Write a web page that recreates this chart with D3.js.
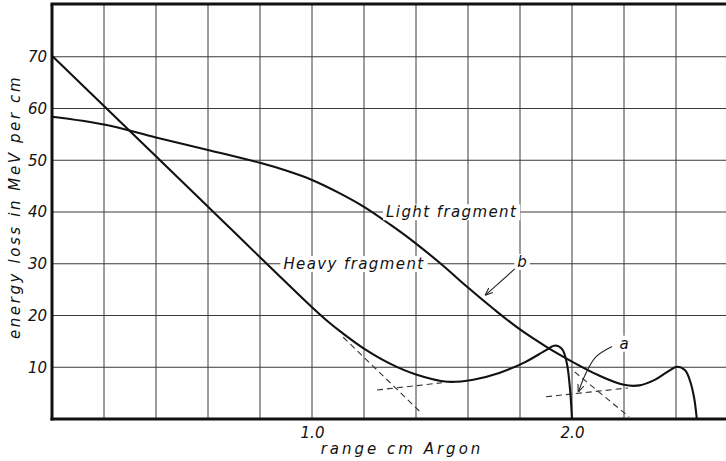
<!DOCTYPE html>
<html>
<head>
<meta charset="utf-8">
<script src="https://cdn.jsdelivr.net/npm/d3@7"></script>
<style>
  html, body { margin: 0; padding: 0; background: #fff; }
  svg { display: block; }
  text { font-family: "DejaVu Sans", sans-serif; font-style: italic; fill: #111; }
</style>
</head>
<body>
<svg id="chart" width="726" height="461"></svg>
<script>
// ---- data ----
const xTickValues = [1.0, 2.0];
const xTickLabels = ["1.0", "2.0"];
const yTickValues = [10, 20, 30, 40, 50, 60, 70];
const yTickLabels = ["10", "20", "30", "40", "50", "60", "70"];
const xGridValues = [0.2, 0.4, 0.6, 0.8, 1.0, 1.2, 1.4, 1.6, 1.8, 2.0, 2.2, 2.4];
const yGridValues = [10, 20, 30, 40, 50, 60, 70];

// Heavy fragment: range cm -> energy loss MeV/cm
const heavyX = [0, 0.5, 1.0, 1.06, 1.12, 1.2, 1.3, 1.4, 1.52, 1.62, 1.72, 1.82, 1.9, 1.935, 1.962, 1.98, 1.992, 2.0];
const heavyY = [70.2, 45.9, 21.6, 18.9, 16.5, 13.6, 10.7, 8.6, 7.2, 7.6, 8.9, 11.0, 13.3, 14.2, 13.5, 10.8, 6.0, 0];

// Light fragment
const lightX = [0, 0.2, 0.4, 0.6, 0.8, 0.9, 1.0, 1.1, 1.2, 1.3, 1.4, 1.5, 1.6, 1.7, 1.8, 1.9, 2.0, 2.1, 2.2, 2.26, 2.32, 2.37, 2.404, 2.435, 2.455, 2.47, 2.48];
const lightY = [58.4, 56.9, 54.4, 52.0, 49.5, 48.0, 46.2, 43.8, 41.0, 37.6, 33.9, 29.8, 25.4, 21.2, 17.3, 14.0, 11.1, 8.5, 6.6, 6.5, 7.6, 9.2, 10.1, 9.4, 7.2, 4.0, 0];

// construction (dashed) lines
const heavyTangent = [[1.12, 15.8], [1.42, 1.2]];
const heavyFoot = [[1.25, 5.6], [1.50, 7.0]];
const lightTangent = [[2.01, 9.1], [2.22, 0.4]];
const lightFoot = [[1.90, 4.3], [2.215, 6.0]];

// annotations
const labelLight = { text: "Light fragment", x: 1.285, y: 40 };
const labelHeavy = { text: "Heavy fragment", x: 0.89, y: 30 };
const labelB = { text: "b", x: 1.808, y: 30.4 };
const labelA = { text: "a", x: 2.2, y: 14.6 };
const arrowB = [[1.78, 29.0], [1.668, 24.0]];
const arrowA = [[2.154, 14.0], [2.092, 12.0], [2.054, 8.9], [2.025, 5.3]];

const xAxisTitle = "range cm Argon";
const yAxisTitle = "energy loss in MeV per cm";

// ---- drawing ----
const svg = d3.select("#chart");
const x = d3.scaleLinear().domain([0, 2.6]).range([52, 728]);
const y = d3.scaleLinear().domain([0, 80]).range([419, 5]);

const defs = svg.append("defs");
defs.append("marker")
  .attr("id", "arr").attr("viewBox", "0 0 10 10")
  .attr("refX", 9).attr("refY", 5)
  .attr("markerWidth", 7).attr("markerHeight", 7)
  .attr("orient", "auto")
  .append("path").attr("d", "M0,1 L10,5 L0,9").attr("fill", "none").attr("stroke", "#222").attr("stroke-width", 1.4);

// grid
const grid = svg.append("g").attr("stroke", "#3a3a3a").attr("stroke-width", 1);
grid.selectAll("line.vx").data(xGridValues).join("line")
  .attr("x1", d => x(d)).attr("x2", d => x(d))
  .attr("y1", y(80)).attr("y2", y(0));
grid.selectAll("line.hy").data(yGridValues).join("line")
  .attr("x1", x(0)).attr("x2", 726)
  .attr("y1", d => y(d)).attr("y2", d => y(d));

// dashed construction lines
const straight = d3.line().x(d => x(d[0])).y(d => y(d[1]));
[heavyTangent, heavyFoot, lightTangent, lightFoot].forEach(seg => {
  svg.append("path").attr("d", straight(seg))
    .attr("fill", "none").attr("stroke", "#333").attr("stroke-width", 1.1)
    .attr("stroke-dasharray", "6,4");
});

// curves
const curveLine = d3.line().x(d => x(d[0])).y(d => y(d[1])).curve(d3.curveCatmullRom.alpha(0.5));
svg.append("path").attr("d", curveLine(heavyX.map((v, i) => [v, heavyY[i]])))
  .attr("fill", "none").attr("stroke", "#111").attr("stroke-width", 2.1);
svg.append("path").attr("d", curveLine(lightX.map((v, i) => [v, lightY[i]])))
  .attr("fill", "none").attr("stroke", "#111").attr("stroke-width", 2.1);

// labels with white backgrounds
function boxedLabel(l, size, spacing, anchor) {
  const g = svg.append("g");
  const t = g.append("text").attr("x", x(l.x)).attr("y", y(l.y))
    .attr("dy", "0.35em").attr("text-anchor", anchor)
    .style("font-size", size + "px").style("letter-spacing", spacing + "px")
    .text(l.text);
  const bb = t.node().getBBox();
  g.insert("rect", "text").attr("x", bb.x - 3).attr("y", bb.y + 1)
    .attr("width", bb.width + 6).attr("height", bb.height - 2).attr("fill", "#fff");
}
boxedLabel(labelLight, 15, 1.4, "start");
boxedLabel(labelHeavy, 15, 1.4, "start");
boxedLabel(labelB, 15, 0, "middle");
boxedLabel(labelA, 15, 0, "middle");

// arrows
svg.append("path").attr("d", straight(arrowB))
  .attr("fill", "none").attr("stroke", "#222").attr("stroke-width", 1.1).attr("marker-end", "url(#arr)");
svg.append("path").attr("d", d3.line().x(d => x(d[0])).y(d => y(d[1])).curve(d3.curveCatmullRom)(arrowA))
  .attr("fill", "none").attr("stroke", "#222").attr("stroke-width", 1.1).attr("marker-end", "url(#arr)");

// frame (left, bottom, top)
const frame = svg.append("g").attr("stroke", "#111").attr("stroke-width", 3).attr("fill", "none");
frame.append("line").attr("x1", x(0)).attr("x2", x(0)).attr("y1", y(80) - 1).attr("y2", y(0) + 1.5);
frame.append("line").attr("x1", x(0) - 1.5).attr("x2", 726).attr("y1", y(0)).attr("y2", y(0));
frame.append("line").attr("x1", x(0) - 1.5).attr("x2", 726).attr("y1", y(80) - 1).attr("y2", y(80) - 1);

// axes (tick labels only)
const yAxis = d3.axisLeft(y).tickValues(yTickValues).tickSize(0).tickPadding(5)
  .tickFormat((d, i) => yTickLabels[i]);
const gy = svg.append("g").attr("transform", `translate(${x(0)},0)`).call(yAxis);
gy.select(".domain").remove();
gy.selectAll("text").style("font-size", "15px").style("font-family", "DejaVu Sans, sans-serif").style("font-style", "italic").attr("fill", "#111");

const xAxis = d3.axisBottom(x).tickValues(xTickValues).tickSize(0).tickPadding(8)
  .tickFormat((d, i) => xTickLabels[i]);
const gx = svg.append("g").attr("transform", `translate(0,${y(0)})`).call(xAxis);
gx.select(".domain").remove();
gx.selectAll("text").style("font-size", "15px").style("font-family", "DejaVu Sans, sans-serif").style("font-style", "italic").attr("fill", "#111");

// axis titles
svg.append("text").attr("x", 402).attr("y", 454).attr("text-anchor", "middle")
  .style("font-size", "15px").style("letter-spacing", "3px").text(xAxisTitle);
svg.append("text").attr("transform", "translate(20,207) rotate(-90)").attr("text-anchor", "middle")
  .style("font-size", "15px").style("letter-spacing", "2.6px").text(yAxisTitle);
</script>
</body>
</html>
